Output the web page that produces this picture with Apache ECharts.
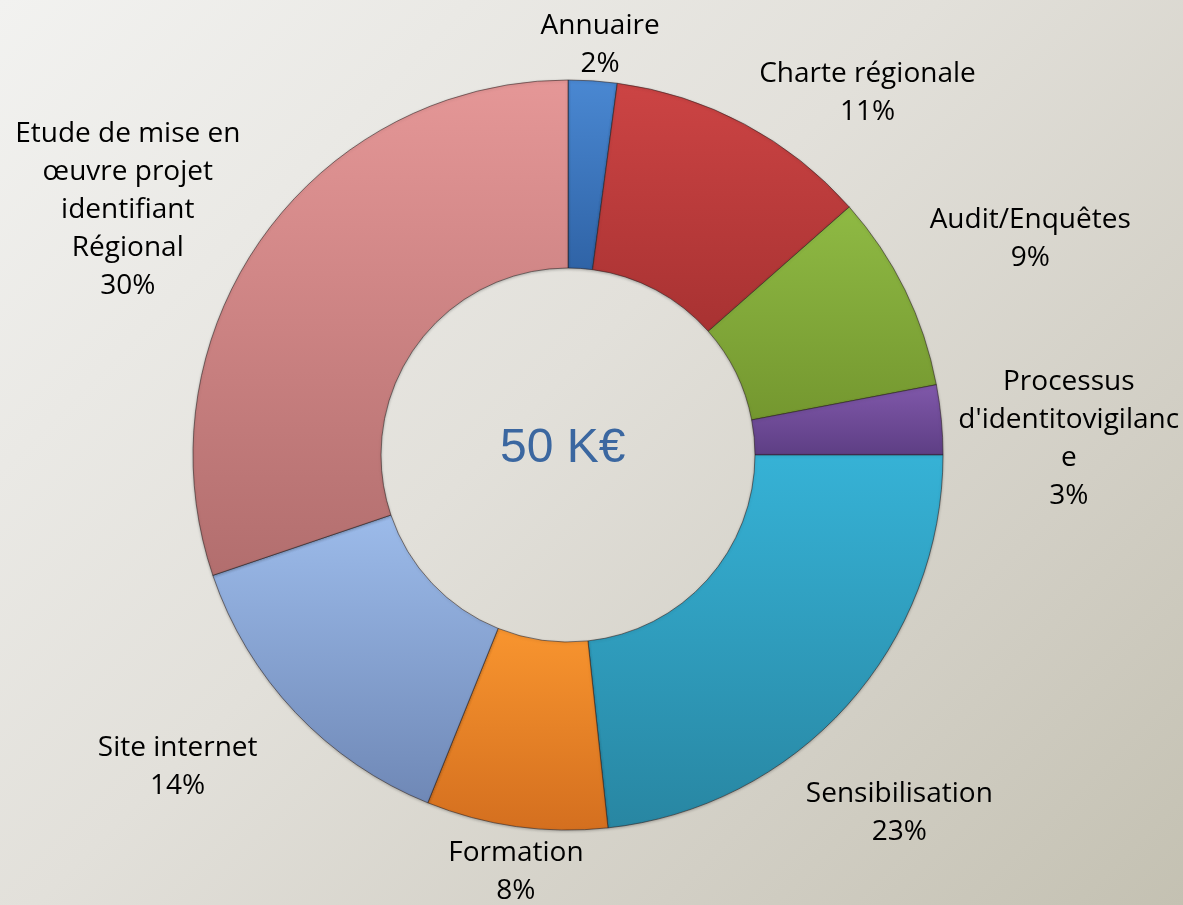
<!DOCTYPE html>
<html>
<head>
<meta charset="utf-8">
<script src="https://cdn.jsdelivr.net/npm/echarts@6/dist/echarts.min.js"></script>
<style>
html,body{margin:0;padding:0;}
body{width:1183px;height:905px;background:linear-gradient(135deg,#f2f2f0 0%,#e2e0da 45%,#d2cfc5 75%,#c4c1b2 100%);}
#chart{width:1183px;height:905px;}
</style>
</head>
<body>
<div id="chart"></div>
<script>
// ---- data ----
const categories = ['Annuaire', 'Charte régionale', 'Audit/Enquêtes', "Processus d'identitovigilance", 'Sensibilisation', 'Formation', 'Site internet', 'Etude de mise en œuvre projet identifiant Régional'];
const labelText = ['Annuaire', 'Charte régionale', 'Audit/Enquêtes', "Processus\nd'identitovigilanc\ne", 'Sensibilisation', 'Formation', 'Site internet', 'Etude de mise en\nœuvre projet\nidentifiant\nRégional'];
const values = [2.1, 11.4, 8.5, 3.0, 23.3, 7.8, 13.7, 30.2];
const centerText = '50 K€';

// ---- styles ----
const colorsTop = ['#4a88d2', '#cc4444', '#8fba44', '#8058aa', '#36b2d6', '#f8952f', '#9cbbea', '#e59797'];
const colorsBot = ['#2f63a6', '#a83232', '#74972f', '#5d3e84', '#2886a2', '#d46f1f', '#6f88b6', '#b26e6e'];
const labelDist = [411, 470, 510, 501, 488, 420, 500, 504];
const labelNudge = [0.7, 11.5, 1.1, 3.6, 5.3, -0.8, 4.7, -6.5];
const CX = 568, CY = 455, R0 = 187, R1 = 375;

const total = values.reduce((a, b) => a + b, 0);
const midAngles = [];
let cum = 0;
values.forEach(v => { midAngles.push((cum + v / 2) / total * 360); cum += v; });

const chart = echarts.init(document.getElementById('chart'), null, {renderer: 'canvas'});
chart.setOption({
  backgroundColor: 'transparent',
  animation: false,
  graphic: [{
    type: 'text',
    left: CX - 68, top: CY - 30,
    style: {text: centerText, fill: '#3b67a0', font: '48px "Liberation Sans", Arial, sans-serif'}
  }],
  series: [{
    type: 'pie',
    center: [CX, CY],
    radius: [R0, R1],
    startAngle: 90,
    clockwise: true,
    avoidLabelOverlap: false,
    data: categories.map((c, i) => ({
      name: c,
      value: values[i],
      itemStyle: {
        color: {type: 'linear', x: 0, y: 0, x2: 0, y2: 1,
          colorStops: [{offset: 0, color: colorsTop[i]}, {offset: 1, color: colorsBot[i]}]}
      }
    })),
    itemStyle: {borderColor: 'rgba(40,30,30,0.55)', borderWidth: 1, shadowBlur: 3, shadowColor: 'rgba(0,0,0,0.25)', shadowOffsetY: 1},
    label: {
      show: true,
      position: 'outside',
      formatter: p => labelText[p.dataIndex] + '\n' + Math.round(p.percent) + '%',
      color: '#000',
      fontFamily: '"Open Sans", Lato, sans-serif',
      fontSize: 28,
      lineHeight: 38,
      align: 'center'
    },
    labelLine: {show: false},
    labelLayout: function (p) {
      const i = p.dataIndex;
      const a = (midAngles[i] + labelNudge[i]) * Math.PI / 180;
      return {
        x: CX + labelDist[i] * Math.sin(a),
        y: CY - labelDist[i] * Math.cos(a),
        align: 'center',
        verticalAlign: 'middle'
      };
    },
    emphasis: {disabled: true}
  }]
});
</script>
</body>
</html>
